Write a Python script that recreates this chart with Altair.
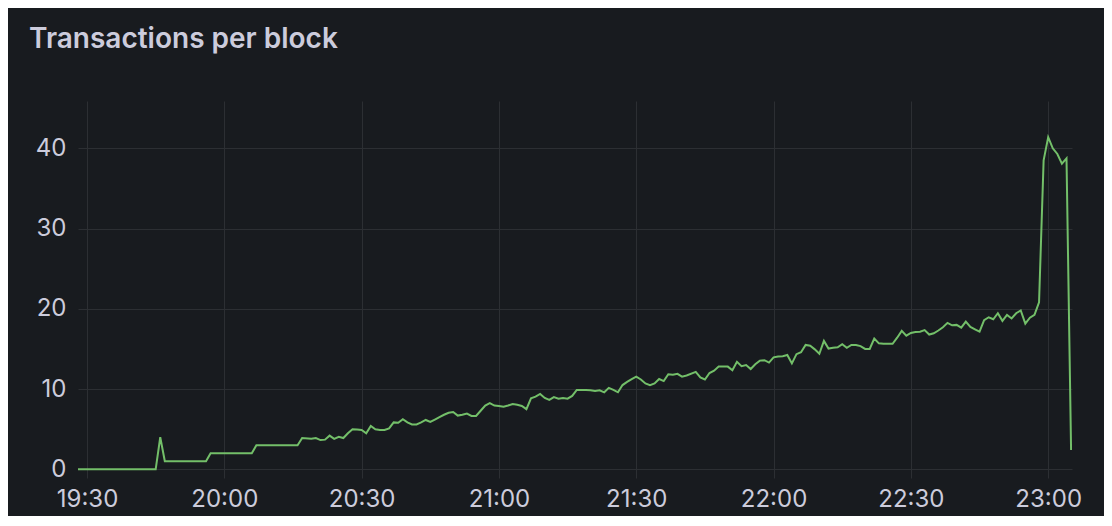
import altair as alt
import pandas as pd

# ---- data (time of day, transactions per block) ----
times = [
    "19:28", "19:45", "19:46", "19:47", "19:56", "19:57", "20:06", "20:07",
    "20:16", "20:17", "20:19", "20:20", "20:21", "20:22", "20:23", "20:24",
    "20:25", "20:26", "20:27", "20:28", "20:29", "20:30", "20:31", "20:32",
    "20:33", "20:34", "20:35", "20:36", "20:37", "20:38", "20:39", "20:40",
    "20:41", "20:42", "20:43", "20:44", "20:45", "20:46", "20:47", "20:48",
    "20:49", "20:50", "20:51", "20:52", "20:53", "20:54", "20:55", "20:56",
    "20:57", "20:58", "20:59", "21:00", "21:01", "21:02", "21:03", "21:04",
    "21:05", "21:06", "21:07", "21:08", "21:09", "21:10", "21:11", "21:12",
    "21:13", "21:14", "21:15", "21:16", "21:17", "21:18", "21:19", "21:20",
    "21:21", "21:22", "21:23", "21:24", "21:25", "21:26", "21:27", "21:28",
    "21:29", "21:30", "21:31", "21:32", "21:33", "21:34", "21:35", "21:36",
    "21:37", "21:38", "21:39", "21:40", "21:41", "21:43", "21:44", "21:45",
    "21:46", "21:47", "21:48", "21:50", "21:51", "21:52", "21:53", "21:54",
    "21:55", "21:56", "21:57", "21:58", "21:59", "22:00", "22:01", "22:02",
    "22:03", "22:04", "22:05", "22:06", "22:07", "22:08", "22:09", "22:10",
    "22:11", "22:12", "22:13", "22:14", "22:15", "22:16", "22:17", "22:18",
    "22:19", "22:20", "22:21", "22:22", "22:23", "22:24", "22:25", "22:26",
    "22:27", "22:28", "22:29", "22:30", "22:31", "22:32", "22:33", "22:34",
    "22:35", "22:36", "22:37", "22:38", "22:39", "22:40", "22:41", "22:42",
    "22:43", "22:44", "22:45", "22:46", "22:47", "22:48", "22:49", "22:50",
    "22:51", "22:52", "22:53", "22:54", "22:55", "22:56", "22:57", "22:58",
    "22:59", "23:00", "23:01", "23:02", "23:03", "23:04", "23:05",
]
tx_per_block = [
    0, 0, 4.0, 1.0, 1.0, 2.0, 2.0, 3.0,
    3.0, 3.9, 3.8, 3.9, 3.65, 3.7, 4.2, 3.8,
    4.05, 3.9, 4.5, 5.0, 4.95, 4.9, 4.5, 5.4,
    5.0, 4.9, 4.9, 5.1, 5.85, 5.8, 6.25, 5.85,
    5.6, 5.6, 5.85, 6.15, 5.9, 6.2, 6.5, 6.8,
    7.05, 7.15, 6.7, 6.8, 6.95, 6.65, 6.65, 7.3,
    7.95, 8.25, 7.95, 7.9, 7.8, 7.95, 8.15, 8.05,
    7.9, 7.5, 8.85, 9.05, 9.4, 8.9, 8.65, 9.0,
    8.8, 8.9, 8.8, 9.15, 9.9, 9.9, 9.9, 9.85,
    9.75, 9.85, 9.6, 10.15, 9.9, 9.6, 10.5, 10.9,
    11.25, 11.55, 11.2, 10.7, 10.5, 10.7, 11.25, 11.0,
    11.85, 11.8, 11.9, 11.55, 11.7, 12.15, 11.45, 11.2,
    12.0, 12.3, 12.8, 12.8, 12.35, 13.4, 12.85, 13.0,
    12.5, 13.1, 13.55, 13.6, 13.3, 13.95, 14.05, 14.1,
    14.25, 13.2, 14.35, 14.6, 15.5, 15.4, 14.95, 14.4,
    16.0, 15.05, 15.15, 15.2, 15.6, 15.15, 15.5, 15.5,
    15.35, 15.0, 15.0, 16.3, 15.7, 15.65, 15.65, 15.65,
    16.4, 17.25, 16.65, 17.0, 17.1, 17.15, 17.35, 16.8,
    16.95, 17.3, 17.7, 18.25, 17.95, 18.0, 17.65, 18.4,
    17.75, 17.45, 17.15, 18.6, 18.95, 18.7, 19.45, 18.5,
    19.25, 18.8, 19.45, 19.8, 18.15, 18.9, 19.25, 20.8,
    38.5, 41.4, 40.0, 39.3, 38.1, 38.75, 2.4,
]
x_tick_labels = ["19:30", "20:00", "20:30", "21:00", "21:30", "22:00", "22:30", "23:00"]
y_ticks = [0, 10, 20, 30, 40]
title_text = "Transactions per block"


def to_minutes(hhmm):
    h, m = hhmm.split(":")
    return int(h) * 60 + int(m) - (19 * 60 + 30)  # minutes after 19:30


df = pd.DataFrame({"t": [to_minutes(s) for s in times], "value": tx_per_block})
x_tick_values = [to_minutes(s) for s in x_tick_labels]

label_expr = (
    "format(floor((datum.value + 1170) / 60), '02d') + ':' + "
    "format((datum.value + 1170) % 60, '02d')"
)

chart = (
    alt.Chart(df)
    .mark_line(color="#73bf69", strokeWidth=2, interpolate="linear", clip=True)
    .encode(
        x=alt.X(
            "t:Q",
            scale=alt.Scale(domain=[-1.97, 215.2], nice=False, zero=False),
            axis=alt.Axis(
                values=x_tick_values,
                labelExpr=label_expr,
                title=None,
                labelPadding=9,
                labelAlign="center",
            ),
        ),
        y=alt.Y(
            "value:Q",
            scale=alt.Scale(domain=[-1.08, 45.9], nice=False, zero=False),
            axis=alt.Axis(values=y_ticks, title=None, labelPadding=12),
        ),
    )
    .properties(
        width=994,
        height=377,
        autosize=alt.AutoSizeParams(type="none"),
        padding={"left": 70, "top": 93, "right": 32, "bottom": 38},
        background="#181b1f",
        title=alt.TitleParams(
            title_text,
            anchor="start",
            frame="group",
            orient="top",
            offset=25,
            dx=-49,
            baseline="alphabetic",
            font="Inter",
            fontSize=28,
            fontWeight=600,
            color="#ccccdc",
        ),
    )
    .configure_view(stroke=None)
    .configure_axis(
        grid=True,
        gridColor="#2c2f33",
        gridWidth=1,
        domain=False,
        ticks=False,
        labelFont="Inter",
        labelFontSize=24,
        labelColor="#ccccdc",
    )
)

chart.save("out.html", embed_options={"renderer": "svg", "actions": False})
